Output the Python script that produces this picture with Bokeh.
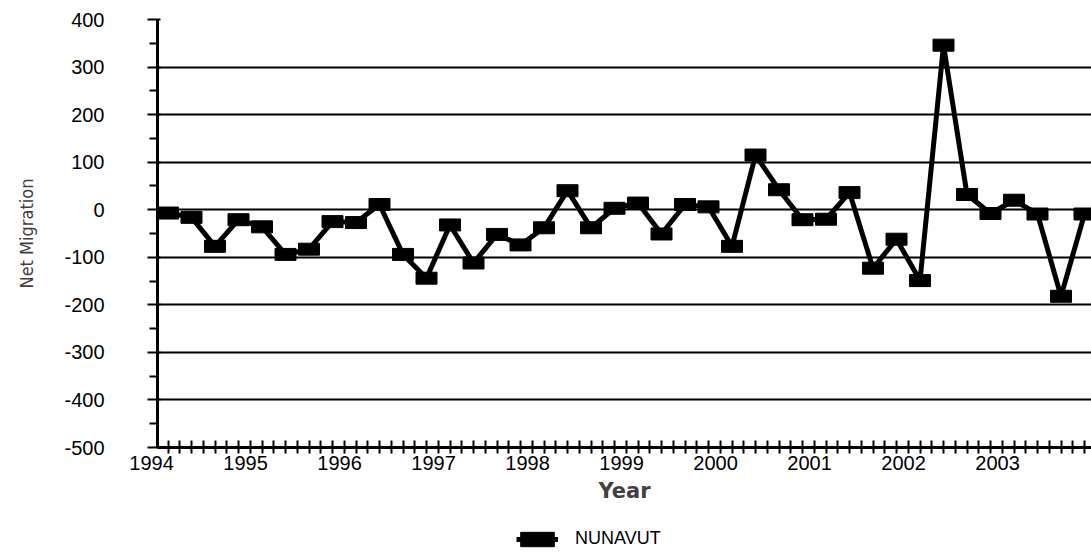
from bokeh.plotting import figure
from bokeh.models import (Range1d, FixedTicker, Legend, LegendItem, ColumnDataSource,
                          LinearAxis, Grid)
from bokeh.embed import file_html
from bokeh.resources import INLINE

# ---- data (quarterly net migration, Nunavut, 1994-2003) ----
years = [1994, 1995, 1996, 1997, 1998, 1999, 2000, 2001, 2002, 2003]
quarters_per_year = 4
net_migration = [
    -7, -16, -77, -21, -36, -94, -83, -25,
    -27, 11, -94, -144, -32, -112, -52, -74,
    -38, 40, -38, 3, 14, -51, 11, 6,
    -77, 115, 42, -21, -20, 36, -123, -62,
    -149, 346, 32, -8, 20, -9, -182, -9,
]
series_name = "NUNAVUT"
y_ticks = [-500, -400, -300, -200, -100, 0, 100, 200, 300, 400]
y_minor = [-450, -350, -250, -150, -50, 50, 150, 250, 350]
y_grid = [-400, -300, -200, -100, 0, 100, 200, 300]

idx = list(range(len(net_migration)))
src = ColumnDataSource(dict(x=idx, y=net_migration))

# ---- layout: frame covers the whole canvas, axes sit at fixed locations ----
W, H = 1091, 554
px_per_q = 23.5            # pixels per quarter
x0_px = 167.5              # pixel of first quarter
y_top_px, y_bot_px = 19, 447
y_min, y_max = -500, 400
x_lo = -x0_px / px_per_q
x_hi = (W - x0_px) / px_per_q
ppu = (y_bot_px - y_top_px) / (y_max - y_min)
y_hi = y_max + y_top_px / ppu
y_lo = y_max - (H - y_top_px) / ppu
x_axis_at = (157 - x0_px) / px_per_q   # index where the y axis sits

p = figure(
    width=W, height=H,
    output_backend="svg", toolbar_location=None,
    x_range=Range1d(x_lo, x_hi), y_range=Range1d(y_lo, y_hi),
    x_axis_type=None, y_axis_type=None,
    min_border=0, outline_line_color=None,
)
p.background_fill_color = "white"
p.border_fill_color = "white"

# grid lines (only between the axis and the right edge)
grid = Grid(dimension=1, ticker=FixedTicker(ticks=y_grid),
            grid_line_color="black", grid_line_width=2)
if "cross_bounds" in grid.properties():
    grid.cross_bounds = (x_axis_at, x_hi)
    p.add_layout(grid, "center")
else:
    p.segment(x0=[x_axis_at] * len(y_grid), x1=[x_hi] * len(y_grid),
              y0=y_grid, y1=y_grid, line_color="black", line_width=2)

# line + rectangular markers
ln = p.line("x", "y", source=src, line_color="black", line_width=5, line_join="round")
mk = p.rect("x", "y", source=src, width=21, height=12, width_units="screen",
            height_units="screen", fill_color="black", line_color="black")

label_font = "Liberation Sans"

# x axis line with half-quarter ticks, and the "Year" title centred on it
minor_pos = [i * 0.5 for i in range(0, 2 * len(net_migration))]
xa = LinearAxis(fixed_location=y_min, bounds=(x_axis_at, x_hi),
                ticker=FixedTicker(ticks=[], minor_ticks=minor_pos),
                major_tick_in=0, major_tick_out=0,
                minor_tick_in=7, minor_tick_out=6,
                minor_tick_line_width=2, minor_tick_line_color="black",
                axis_line_width=3, axis_line_color="black",
                major_label_text_font_size="0px",
                axis_label="Year",
                axis_label_text_font="DejaVu Sans",
                axis_label_text_font_style="bold",
                axis_label_text_font_size="21px",
                axis_label_text_color="#404040",
                axis_label_standoff=25)
p.add_layout(xa, "below")

# year labels (every 4 quarters, placed as in the original)
label_pos = [quarters_per_year * k - 0.7 for k in range(len(years))]
xl = LinearAxis(fixed_location=y_min,
                ticker=FixedTicker(ticks=label_pos, minor_ticks=[]),
                major_label_overrides={pos: str(yr) for pos, yr in zip(label_pos, years)},
                major_tick_in=0, major_tick_out=0,
                minor_tick_line_color=None, major_tick_line_color=None,
                axis_line_color=None,
                major_label_standoff=8,
                major_label_text_font=label_font,
                major_label_text_font_size="20px",
                major_label_text_color="black")
p.add_layout(xl, "below")

# y axis
ya = LinearAxis(fixed_location=x_axis_at, bounds=(y_min, y_max),
                ticker=FixedTicker(ticks=y_ticks, minor_ticks=y_minor),
                major_label_overrides={v: str(v) for v in y_ticks},
                major_tick_in=3, major_tick_out=10,
                major_tick_line_width=2, major_tick_line_color="black",
                minor_tick_in=1, minor_tick_out=8,
                minor_tick_line_width=2, minor_tick_line_color="black",
                axis_line_width=3, axis_line_color="black",
                major_label_standoff=43,
                major_label_text_font=label_font,
                major_label_text_font_size="20px",
                major_label_text_color="black",
                axis_label="Net Migration",
                axis_label_text_font="Liberation Sans Narrow, DejaVu Sans Condensed, Roboto Condensed, Liberation Sans",
                axis_label_text_font_style="normal",
                axis_label_text_font_size="18px",
                axis_label_text_color="#404040",
                axis_label_standoff=24)
p.add_layout(ya, "left")

legend = Legend(
    items=[LegendItem(label=series_name, renderers=[ln, mk])],
    location=(516, 5),
    orientation="horizontal",
    glyph_width=42, glyph_height=18, label_height=18,
    label_standoff=17, padding=0, margin=0, spacing=0,
    border_line_alpha=0, background_fill_alpha=0,
    label_text_font=label_font, label_text_font_size="18px",
    label_text_color="black",
)
p.add_layout(legend, "center")

open("out.html", "w").write(file_html(p, INLINE))
